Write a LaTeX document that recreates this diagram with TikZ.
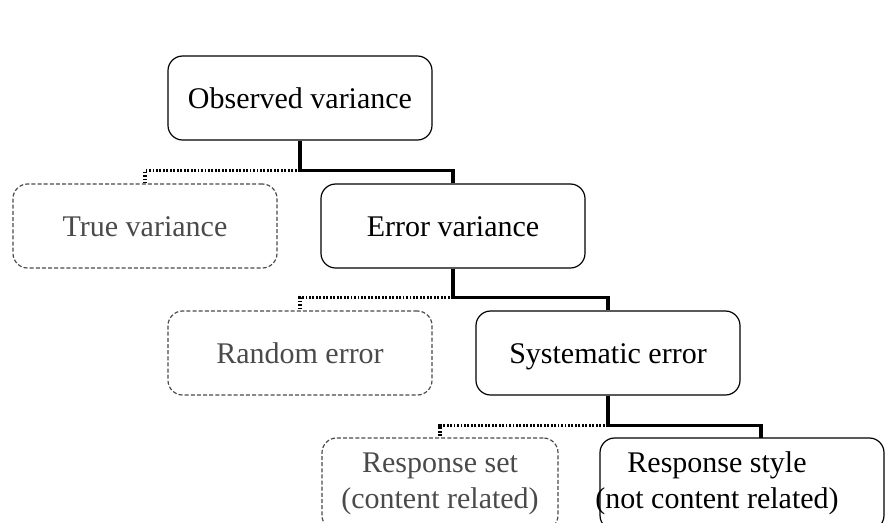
\documentclass[tikz,border=0pt]{standalone}
\usepackage{fontspec}
\setmainfont{Liberation Serif}
\usetikzlibrary{positioning}
\definecolor{fadedgray}{HTML}{4A4A4A}

\begin{document}
\begin{tikzpicture}[x=0.75pt,y=-0.75pt,
                    font=\fontsize{22.5}{27}\selectfont,
                    main box/.style={draw,rounded corners=11pt,line width=0.9pt,
                      inner sep=0pt,align=center,minimum width=198pt,minimum height=63pt},
                    one line/.style={text height=17pt,text depth=1pt},
                    faint box/.style={main box,draw=fadedgray,text=fadedgray,
                      dash pattern=on 3pt off 1.6pt},
                    main link/.style={line width=2.5pt},
                    faint link/.style={line width=2.5pt,dash pattern=on 1.4pt off 1.2pt}
                   ]
   \useasboundingbox (0,0) rectangle (886,522);
   \node[main box,one line]  (obs)  at (300,98)  {Observed variance};
   \node[faint box,one line] (true) at (145,226) {True variance};
   \node[main box,one line]  (err)  at (453,226) {Error variance};
   \node[faint box,one line] (rand) at (300,353) {Random error};
   \node[main box,one line]  (sys)  at (608,353) {Systematic error};
   \node[faint box,minimum width=177pt,minimum height=69pt] (rset) at (440,484)
        {Response set\\(content related)};
   \node[main box,minimum width=213pt,minimum height=69pt] (rstyle) at (742,484) {};
   \node[align=center] (rstyletext) at (717,483) {Response style\\(not content related)};
   \coordinate (rstyletop) at (761,438);
   % links: solid to the error side, dotted to the other
   \draw[main link]  (obs.south) -- ++(0,30) -| (err.north);
   \draw[faint link] (obs.south) ++(0,30) -| (true.north);
   \draw[main link]  (err.south) -- ++(0,29) -| (sys.north);
   \draw[faint link] (err.south) ++(0,29) -| (rand.north);
   \draw[main link]  (sys.south) -- ++(0,30) -| (rstyletop);
   \draw[faint link] (sys.south) ++(0,30) -| (rset.north);
\end{tikzpicture}
\end{document}
